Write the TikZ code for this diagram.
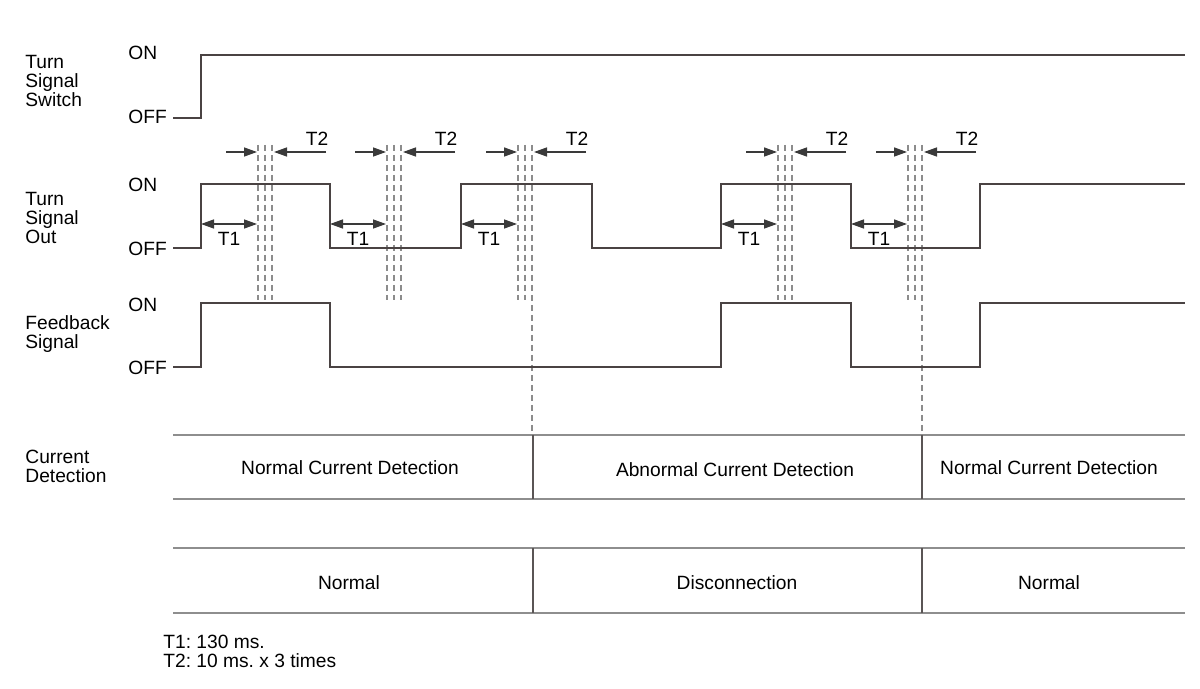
\documentclass[tikz,border=0pt]{standalone}
\usepackage{fontspec}
\setmainfont{Liberation Sans}
\usetikzlibrary{arrows.meta}
\definecolor{sigc}{HTML}{4A4343}
\definecolor{tblc}{HTML}{8E8E8E}
\definecolor{vc}{HTML}{5A5555}
\definecolor{dshc}{HTML}{8C8C8C}
\definecolor{arrc}{HTML}{3A3A3A}
\frenchspacing
\begin{document}
\begin{tikzpicture}[x=0.5pt,y=-0.5pt,
  sig/.style={draw=sigc,line width=1.35pt,line join=miter,line cap=butt},
  tbl/.style={draw=tblc,line width=1.2pt},
  vline/.style={draw=vc,line width=1pt},
  dsh/.style={draw=dshc,line width=1.05pt,dash pattern=on 3.2pt off 1.8pt},
  tarr/.style={draw=arrc,line width=0.7pt,-{Triangle[length=6.5pt,width=4.5pt]}},
  dbl/.style={draw=arrc,line width=0.7pt,{Triangle[length=6.5pt,width=4.5pt]}-{Triangle[length=6.5pt,width=4.5pt]}},
  lbl/.style={font=\fontsize{9.6}{9.5}\selectfont,inner sep=0pt,text=black},
]
\useasboundingbox[fill=white] (0,0) rectangle (1200,689);

% --- T1 / T2 markers and dashed guides ---
\foreach \b/\ext in {201/0,330/0,461/1,721/0,851/1}{
  \coordinate (a\b) at (\b+57,145);
  \coordinate (b\b) at (\b+64,145);
  \coordinate (c\b) at (\b+71,145);
  \draw[dsh] (a\b) -- ++(0,155);
  \draw[dsh] (b\b) -- ++(0,155);
  \ifnum\ext=1
    \draw[dsh] (c\b) -- ++(0,290);
  \else
    \draw[dsh] (c\b) -- ++(0,155);
  \fi
  % T2 arrows
  \coordinate (l\b) at (\b+25,152);
  \coordinate (r\b) at (\b+125,152);
  \draw[tarr] (l\b) -- (\b+56,152);
  \draw[tarr] (r\b) -- (\b+73,152);
  \node[lbl,anchor=base] (tt\b) at (\b+116,146) {T2};
  % T1 arrows
  \coordinate (s\b) at (\b,224);
  \draw[dbl] (s\b) -- (\b+56,224);
  \node[lbl,anchor=base] (to\b) at (\b+28,246) {T1};
}

% --- signals ---
\draw[sig] (173,118) -- (201,118) -- (201,55) -- (1185,55);
\draw[sig] (173,248) -- (201,248) -- (201,184) -- (330,184) -- (330,248)
  -- (461,248) -- (461,184) -- (592,184) -- (592,248) -- (721,248)
  -- (721,184) -- (851,184) -- (851,248) -- (980,248) -- (980,184) -- (1185,184);
\draw[sig] (173,367) -- (201,367) -- (201,303) -- (330,303) -- (330,367)
  -- (721,367) -- (721,303) -- (851,303) -- (851,367) -- (980,367)
  -- (980,303) -- (1185,303);

% --- ON/OFF labels ---
\node[lbl,anchor=base west] (on1) at (128,60) {ON};
\node[lbl,anchor=base west] (off1) at (128,124) {OFF};
\node[lbl,anchor=base west] (on2) at (128,192) {ON};
\node[lbl,anchor=base west] (off2) at (128,256) {OFF};
\node[lbl,anchor=base west] (on3) at (128,312) {ON};
\node[lbl,anchor=base west] (off3) at (128,375) {OFF};

% --- row titles ---
\node[lbl,anchor=north west,align=left] (sw) at (25,55) {Turn\\Signal\\Switch};
\node[lbl,anchor=north west,align=left] (out) at (25,192) {Turn\\Signal\\Out};
\node[lbl,anchor=north west,align=left] (fb) at (25,315) {Feedback\\Signal};
\node[lbl,anchor=north west,align=left] (cd) at (25,450) {Current\\Detection};

% --- tables ---
\draw[tbl] (173,435) -- (1185,435);
\draw[tbl] (173,499) -- (1185,499);
\draw[tbl] (173,548) -- (1185,548);
\draw[tbl] (173,613) -- (1185,613);
\draw[vline] (533,435) -- (533,499);
\draw[vline] (922,435) -- (922,499);
\draw[vline] (533,548) -- (533,613);
\draw[vline] (922,548) -- (922,613);

\node[lbl,anchor=base] (n1) at (350,475) {Normal Current Detection};
\node[lbl,anchor=base] (n2) at (735,477) {Abnormal Current Detection};
\node[lbl,anchor=base] (n3) at (1049,475) {Normal Current Detection};
\node[lbl,anchor=base] (m1) at (349,589) {Normal};
\node[lbl,anchor=base] (m2) at (737,589) {Disconnection};
\node[lbl,anchor=base] (m3) at (1049,589) {Normal};

% --- notes ---
\node[lbl,anchor=base west] (note1) at (163,648) {T1: 130 ms.};
\node[lbl,anchor=base west] (note2) at (163,667) {T2: 10 ms. x 3 times};
\end{tikzpicture}
\end{document}
